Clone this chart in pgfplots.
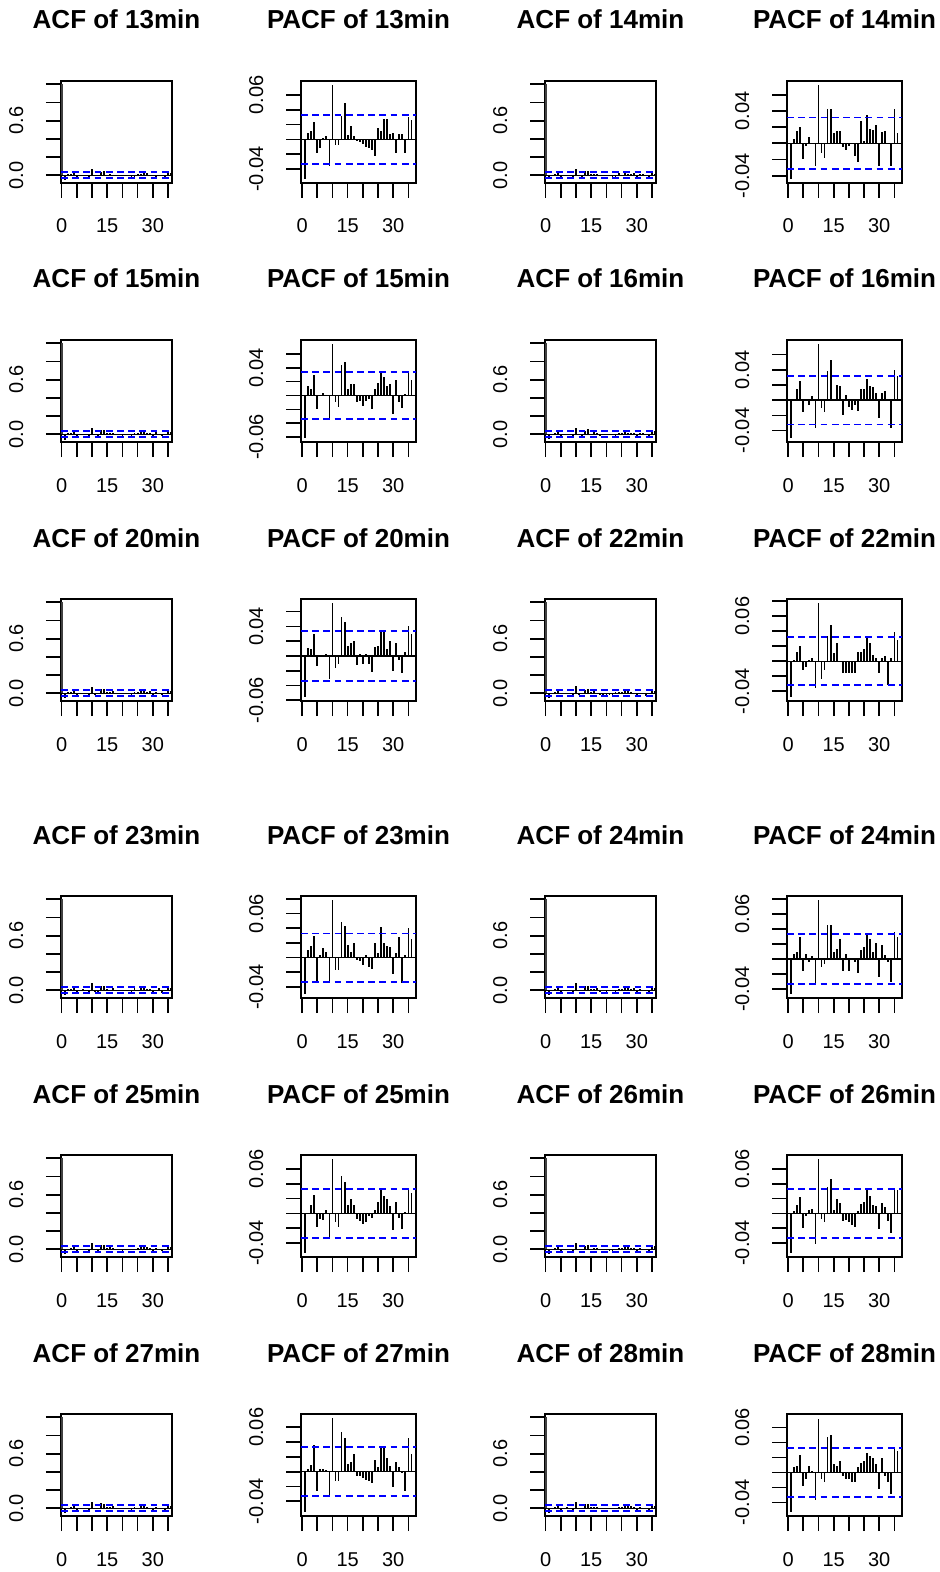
\documentclass[border=0pt]{standalone}
\usepackage{fontspec}
\setmainfont{Liberation Sans}
\usepackage{pgfplots}
\usepackage{pgfplotstable}
\pgfplotsset{compat=1.18}

\definecolor{ciblue}{HTML}{0000FF}

% PACF values, lags 1-36.
% The ACF panels reuse them (at these sizes ACF and PACF differ by less than a pixel).
\pgfplotstableread[row sep=\\]{lag pacf\\
1 -0.054\\ 2 0.009\\ 3 0.012\\ 4 0.024\\ 5 -0.018\\ 6 -0.011\\ 7 0.002\\ 8 0.004\\ 9 -0.036\\ 10 0.0735\\
11 -0.008\\ 12 -0.008\\ 13 0.032\\ 14 0.049\\ 15 0.006\\ 16 0.018\\ 17 0.005\\ 18 -0.002\\ 19 -0.004\\ 20 -0.006\\
21 -0.010\\ 22 -0.012\\ 23 -0.015\\ 24 -0.022\\ 25 0.015\\ 26 0.012\\ 27 0.028\\ 28 0.028\\ 29 0.007\\ 30 0.008\\
31 -0.018\\ 32 0.007\\ 33 0.007\\ 34 -0.018\\ 35 0.030\\ 36 0.026\\}\pThirteen

\pgfplotstableread[row sep=\\]{lag pacf\\
1 -0.044\\ 2 0.005\\ 3 0.015\\ 4 0.020\\ 5 -0.019\\ 6 -0.003\\ 7 0.008\\ 8 0.001\\ 9 -0.028\\ 10 0.072\\
11 -0.012\\ 12 -0.018\\ 13 0.043\\ 14 0.043\\ 15 0.013\\ 16 0.015\\ 17 0.015\\ 18 -0.005\\ 19 -0.008\\ 20 -0.003\\
21 0.001\\ 22 -0.016\\ 23 -0.023\\ 24 0.027\\ 25 0.003\\ 26 0.035\\ 27 0.018\\ 28 0.016\\ 29 0.023\\ 30 -0.028\\
31 0.014\\ 32 0.015\\ 33 0.001\\ 34 -0.028\\ 35 0.043\\ 36 0.013\\}\pFourteen

\pgfplotstableread[row sep=\\]{lag pacf\\
1 -0.061\\ 2 0.014\\ 3 0.009\\ 4 0.029\\ 5 -0.020\\ 6 0.001\\ 7 0.003\\ 8 0.001\\ 9 -0.034\\ 10 0.074\\
11 -0.010\\ 12 -0.016\\ 13 0.044\\ 14 0.049\\ 15 0.009\\ 16 0.017\\ 17 0.017\\ 18 -0.010\\ 19 -0.008\\ 20 -0.015\\
21 -0.008\\ 22 -0.005\\ 23 -0.020\\ 24 0.009\\ 25 0.018\\ 26 0.032\\ 27 0.027\\ 28 0.013\\ 29 0.016\\ 30 -0.027\\
31 0.023\\ 32 -0.010\\ 33 -0.018\\ 34 0.002\\ 35 0.033\\ 36 0.023\\}\pFifteen

\pgfplotstableread[row sep=\\]{lag pacf\\
1 -0.050\\ 2 0.001\\ 3 0.015\\ 4 0.025\\ 5 -0.015\\ 6 0.002\\ 7 -0.007\\ 8 0.005\\ 9 -0.036\\ 10 0.074\\
11 -0.010\\ 12 -0.015\\ 13 0.038\\ 14 0.053\\ 15 0.001\\ 16 0.020\\ 17 0.018\\ 18 -0.020\\ 19 0.007\\ 20 -0.009\\
21 -0.013\\ 22 -0.007\\ 23 -0.014\\ 24 0.015\\ 25 0.015\\ 26 0.028\\ 27 0.019\\ 28 0.017\\ 29 0.010\\ 30 -0.023\\
31 0.009\\ 32 0.012\\ 33 0.001\\ 34 -0.036\\ 35 0.040\\ 36 0.032\\}\pSixteen

\pgfplotstableread[row sep=\\]{lag pacf\\
1 -0.056\\ 2 0.011\\ 3 0.009\\ 4 0.030\\ 5 -0.014\\ 6 0.001\\ 7 0.001\\ 8 0.003\\ 9 -0.031\\ 10 0.072\\
11 -0.017\\ 12 -0.011\\ 13 0.052\\ 14 0.046\\ 15 0.014\\ 16 0.018\\ 17 0.020\\ 18 -0.012\\ 19 0.003\\ 20 -0.011\\
21 0.002\\ 22 -0.011\\ 23 -0.022\\ 24 0.012\\ 25 0.014\\ 26 0.035\\ 27 0.035\\ 28 0.009\\ 29 0.020\\ 30 -0.020\\
31 0.017\\ 32 -0.005\\ 33 -0.023\\ 34 0.005\\ 35 0.040\\ 36 0.030\\}\pTwenty

\pgfplotstableread[row sep=\\]{lag pacf\\
1 -0.048\\ 2 0.002\\ 3 0.013\\ 4 0.020\\ 5 -0.011\\ 6 -0.007\\ 7 0.002\\ 8 0.004\\ 9 -0.036\\ 10 0.078\\
11 -0.024\\ 12 -0.011\\ 13 0.034\\ 14 0.048\\ 15 0.011\\ 16 0.025\\ 17 0.001\\ 18 -0.016\\ 19 -0.015\\ 20 -0.015\\
21 -0.016\\ 22 -0.015\\ 23 0.013\\ 24 0.013\\ 25 0.016\\ 26 0.033\\ 27 0.025\\ 28 0.009\\ 29 0.004\\ 30 -0.016\\
31 0.004\\ 32 0.007\\ 33 -0.031\\ 34 0.004\\ 35 0.039\\ 36 0.029\\}\pTwentytwo

\pgfplotstableread[row sep=\\]{lag pacf\\
1 -0.050\\ 2 0.010\\ 3 0.016\\ 4 0.029\\ 5 -0.033\\ 6 0.004\\ 7 0.013\\ 8 0.008\\ 9 -0.033\\ 10 0.078\\
11 -0.017\\ 12 -0.017\\ 13 0.048\\ 14 0.043\\ 15 0.017\\ 16 0.008\\ 17 0.020\\ 18 -0.003\\ 19 -0.005\\ 20 -0.010\\
21 0.004\\ 22 -0.013\\ 23 -0.016\\ 24 0.020\\ 25 0.006\\ 26 0.042\\ 27 0.020\\ 28 0.016\\ 29 0.014\\ 30 -0.022\\
31 0.006\\ 32 0.028\\ 33 -0.035\\ 34 0.004\\ 35 0.040\\ 36 0.025\\}\pTwentythree

\pgfplotstableread[row sep=\\]{lag pacf\\
1 -0.047\\ 2 0.007\\ 3 0.010\\ 4 0.030\\ 5 -0.016\\ 6 0.007\\ 7 -0.004\\ 8 0.004\\ 9 -0.035\\ 10 0.079\\
11 -0.010\\ 12 -0.007\\ 13 0.045\\ 14 0.045\\ 15 0.010\\ 16 0.013\\ 17 0.027\\ 18 -0.016\\ 19 0.007\\ 20 -0.016\\
21 0.001\\ 22 -0.004\\ 23 -0.019\\ 24 0.012\\ 25 0.016\\ 26 0.033\\ 27 0.027\\ 28 0.010\\ 29 0.021\\ 30 -0.024\\
31 0.019\\ 32 0.005\\ 33 -0.004\\ 34 -0.031\\ 35 0.036\\ 36 0.029\\}\pTwentyfour

\pgfplotstableread[row sep=\\]{lag pacf\\
1 -0.054\\ 2 0.001\\ 3 0.012\\ 4 0.025\\ 5 -0.018\\ 6 -0.007\\ 7 -0.009\\ 8 0.005\\ 9 -0.034\\ 10 0.073\\
11 -0.012\\ 12 -0.018\\ 13 0.050\\ 14 0.042\\ 15 0.011\\ 16 0.020\\ 17 0.012\\ 18 -0.008\\ 19 -0.010\\ 20 -0.015\\
21 -0.012\\ 22 -0.004\\ 23 -0.006\\ 24 0.005\\ 25 0.016\\ 26 0.032\\ 27 0.024\\ 28 0.020\\ 29 0.010\\ 30 -0.022\\
31 0.015\\ 32 -0.006\\ 33 -0.021\\ 34 0.002\\ 35 0.034\\ 36 0.028\\}\pTwentyfive

\pgfplotstableread[row sep=\\]{lag pacf\\
1 -0.054\\ 2 0.003\\ 3 0.011\\ 4 0.022\\ 5 -0.020\\ 6 -0.004\\ 7 0.004\\ 8 0.006\\ 9 -0.041\\ 10 0.073\\
11 -0.008\\ 12 -0.012\\ 13 0.036\\ 14 0.046\\ 15 0.005\\ 16 0.019\\ 17 0.014\\ 18 -0.010\\ 19 -0.009\\ 20 -0.012\\
21 -0.016\\ 22 -0.019\\ 23 0.003\\ 24 0.013\\ 25 0.015\\ 26 0.031\\ 27 0.023\\ 28 0.011\\ 29 0.010\\ 30 -0.021\\
31 0.014\\ 32 0.008\\ 33 -0.010\\ 34 -0.026\\ 35 0.034\\ 36 0.032\\}\pTwentysix

\pgfplotstableread[row sep=\\]{lag pacf\\
1 -0.055\\ 2 0.004\\ 3 0.009\\ 4 0.036\\ 5 -0.026\\ 6 0.003\\ 7 0.004\\ 8 0.002\\ 9 -0.034\\ 10 0.072\\
11 -0.013\\ 12 -0.013\\ 13 0.053\\ 14 0.045\\ 15 0.011\\ 16 0.013\\ 17 0.024\\ 18 -0.006\\ 19 -0.006\\ 20 -0.009\\
21 -0.011\\ 22 -0.013\\ 23 -0.015\\ 24 0.016\\ 25 0.006\\ 26 0.033\\ 27 0.033\\ 28 0.019\\ 29 0.007\\ 30 -0.021\\
31 0.013\\ 32 0.006\\ 33 -0.002\\ 34 -0.026\\ 35 0.045\\ 36 0.024\\}\pTwentyseven

\pgfplotstableread[row sep=\\]{lag pacf\\
1 -0.053\\ 2 0.008\\ 3 0.009\\ 4 0.024\\ 5 -0.018\\ 6 -0.009\\ 7 0.009\\ 8 0.002\\ 9 -0.036\\ 10 0.072\\
11 -0.009\\ 12 -0.013\\ 13 0.047\\ 14 0.050\\ 15 0.011\\ 16 0.009\\ 17 0.016\\ 18 -0.004\\ 19 -0.009\\ 20 -0.008\\
21 -0.013\\ 22 -0.012\\ 23 0.007\\ 24 0.013\\ 25 0.016\\ 26 0.026\\ 27 0.022\\ 28 0.020\\ 29 0.011\\ 30 -0.022\\
31 0.019\\ 32 -0.005\\ 33 -0.013\\ 34 -0.029\\ 35 0.032\\ 36 0.029\\}\pTwentyeight

\pgfplotsset{
  rpanel/.style={
    scale only axis, height=51pt, anchor=north west,
    axis line style={line width=0.85pt},
    tick align=outside, major tick length=7.5pt,
    tick style={line width=0.85pt, black},
    xtick pos=bottom, ytick pos=left,
    scaled y ticks=false, scaled x ticks=false,
    xtick={0,5,10,15,20,25,30,35},
    xticklabels={0,,,15,,,30,},
    ticklabel style={font=\fontsize{10}{10}\selectfont},
    xticklabel style={anchor=base, yshift=-17.5pt},
    yticklabel style={xshift=-11.5pt, rotate=90, anchor=base},
    title style={font=\bfseries\fontsize{13}{13}\selectfont, at={(0.5,1)}, anchor=base, yshift=20pt},
  },
  acf/.style={rpanel, width=55.5pt, xmin=-0.2, xmax=36.3, ymin=-0.085, ymax=1.036,
    ytick={0,0.2,0.4,0.6,0.8,1}, yticklabels={0.0,,,0.6,,}},
  pacf/.style={rpanel, width=57.5pt, xmin=-0.35, xmax=37.5},
  lab64/.style={ytick={-0.04,-0.02,0,0.02,0.04,0.06}, yticklabels={-0.04,,,,,0.06}},
  lab64x/.style={ytick={-0.04,-0.02,0,0.02,0.04,0.06,0.08}, yticklabels={-0.04,,,,,0.06,}},
  lab44/.style={ytick={-0.04,-0.02,0,0.02,0.04,0.06}, yticklabels={-0.04,,,,0.04,}},
  lab46/.style={ytick={-0.06,-0.04,-0.02,0,0.02,0.04,0.06}, yticklabels={-0.06,,,,,0.04,}},
  rbar/.style={ycomb, black, line width=0.9pt, mark=none},
  zline/.style={black, line width=0.75pt},
  ciline/.style={ciblue, line width=0.9pt, dash pattern=on 3.4pt off 2.2pt},
}

% #1 x, #2 y of the box corner (pt), #3 minutes, #4 table, #5 confidence bound
\newcommand{\acfpanel}[5]{%
  \begin{axis}[acf, at={(#1pt,-#2pt)}, title={ACF of #3min}]
    \addplot[rbar] table[x=lag, y=pacf] {#4};
    \addplot[rbar, line width=1.3pt, black!75] coordinates {(0,1)};
    \addplot[zline] coordinates {(-0.2,0) (36.3,0)};
    \addplot[ciline] coordinates {(-0.2,#5) (36.3,#5)};
    \addplot[ciline] coordinates {(-0.2,-#5) (36.3,-#5)};
  \end{axis}}
% #6 y range and tick labels
\newcommand{\pacfpanel}[6]{%
  \begin{axis}[pacf, at={(#1pt,-#2pt)}, title={PACF of #3min}, #6]
    \addplot[rbar] table[x=lag, y=pacf] {#4};
    \addplot[zline] coordinates {(-0.35,0) (37.5,0)};
    \addplot[ciline] coordinates {(-0.35,#5) (37.5,#5)};
    \addplot[ciline] coordinates {(-0.35,-#5) (37.5,-#5)};
  \end{axis}}

\begin{document}
\begin{tikzpicture}
\useasboundingbox (0,0) rectangle (469.5pt,-786pt);

\acfpanel{30.5}{40.5}{13}{\pThirteen}{0.033}
\pacfpanel{150.5}{40.5}{13}{\pThirteen}{0.033}{ymin=-0.059, ymax=0.079, lab64}
\acfpanel{272.5}{40.5}{14}{\pFourteen}{0.032}
\pacfpanel{393.5}{40.5}{14}{\pFourteen}{0.032}{ymin=-0.049, ymax=0.077, lab44}

\acfpanel{30.5}{170}{15}{\pFifteen}{0.034}
\pacfpanel{150.5}{170}{15}{\pFifteen}{0.034}{ymin=-0.067, ymax=0.080, lab46}
\acfpanel{272.5}{170}{16}{\pSixteen}{0.032}
\pacfpanel{393.5}{170}{16}{\pSixteen}{0.032}{ymin=-0.055, ymax=0.079, lab44}

\acfpanel{30.5}{299.5}{20}{\pTwenty}{0.034}
\pacfpanel{150.5}{299.5}{20}{\pTwenty}{0.034}{ymin=-0.061, ymax=0.077, lab46}
\acfpanel{272.5}{299.5}{22}{\pTwentytwo}{0.032}
\pacfpanel{393.5}{299.5}{22}{\pTwentytwo}{0.032}{ymin=-0.053, ymax=0.083, lab64x}

\acfpanel{30.5}{448}{23}{\pTwentythree}{0.033}
\pacfpanel{150.5}{448}{23}{\pTwentythree}{0.033}{ymin=-0.055, ymax=0.084, lab64x}
\acfpanel{272.5}{448}{24}{\pTwentyfour}{0.033}
\pacfpanel{393.5}{448}{24}{\pTwentyfour}{0.033}{ymin=-0.052, ymax=0.084, lab64x}

\acfpanel{30.5}{577.5}{25}{\pTwentyfive}{0.033}
\pacfpanel{150.5}{577.5}{25}{\pTwentyfive}{0.033}{ymin=-0.059, ymax=0.079, lab64}
\acfpanel{272.5}{577.5}{26}{\pTwentysix}{0.033}
\pacfpanel{393.5}{577.5}{26}{\pTwentysix}{0.033}{ymin=-0.059, ymax=0.079, lab64}

\acfpanel{30.5}{707}{27}{\pTwentyseven}{0.033}
\pacfpanel{150.5}{707}{27}{\pTwentyseven}{0.033}{ymin=-0.060, ymax=0.078, lab64}
\acfpanel{272.5}{707}{28}{\pTwentyeight}{0.033}
\pacfpanel{393.5}{707}{28}{\pTwentyeight}{0.033}{ymin=-0.058, ymax=0.078, lab64}
\end{tikzpicture}
\end{document}
